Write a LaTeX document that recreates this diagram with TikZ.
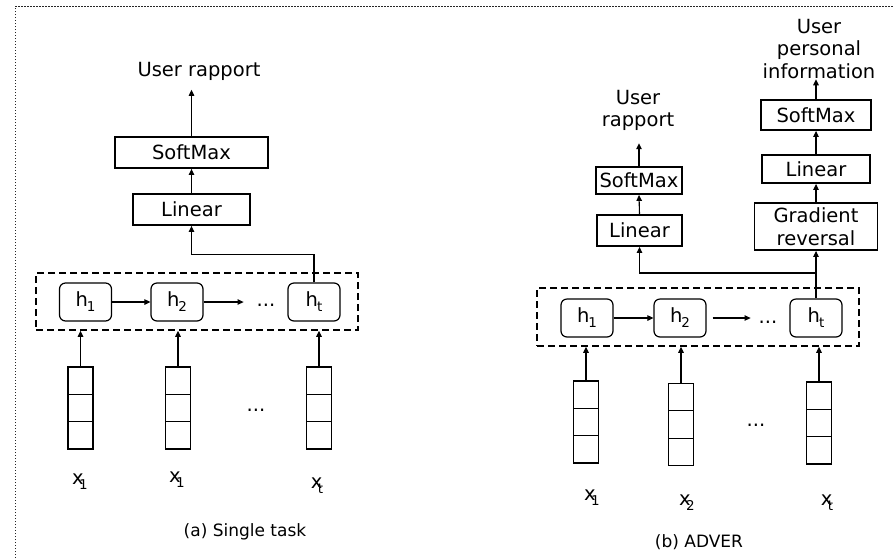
\documentclass[tikz,border=0pt]{standalone}
\usepackage{fontspec}
\setmainfont{DejaVu Sans}
\usetikzlibrary{arrows.meta,calc}
\newcommand{\mysb}[1]{\raisebox{-0.25em}{\fontsize{13.5}{13.5}\selectfont #1}}
\begin{document}
\begin{tikzpicture}[x=1pt,y=-1pt,
  font=\fontsize{19.5}{22.8}\selectfont,
  box/.style={draw, line width=1.8pt, inner sep=0pt, align=center},
  hbox/.style={draw, line width=1.2pt, rounded corners=6pt, minimum width=52pt, minimum height=38pt, inner sep=0pt},
  rnn/.style={draw, line width=1.5pt, dash pattern=on 7pt off 4pt, inner sep=0pt},
  arr/.style={line width=1.1pt, -{Triangle[length=6pt,width=5.5pt]}},
  lbl/.style={inner sep=0pt, align=center},
  captxt/.style={inner sep=0pt, font=\fontsize{17}{20}\selectfont},
  vec/.style={draw, line width=1.3pt, minimum width=25pt, minimum height=82pt, inner sep=0pt,
    path picture={
      \draw[line width=1.3pt] ($(path picture bounding box.north west)!1/3!(path picture bounding box.south west)$) -- ($(path picture bounding box.north east)!1/3!(path picture bounding box.south east)$);
      \draw[line width=1.3pt] ($(path picture bounding box.north west)!2/3!(path picture bounding box.south west)$) -- ($(path picture bounding box.north east)!2/3!(path picture bounding box.south east)$);
    }},
  frame/.style={line width=0.8pt, black!85, dash pattern=on 1.5pt off 1.5pt}
]
\useasboundingbox (0,0) rectangle (896,558);
\draw[frame] (15,558) -- (15,6) -- (893,6);

% ---------- (a) Single task ----------
\node[lbl] (outA) at (199,71.5) {User rapport};
\node[box, minimum width=153pt, minimum height=31pt] (smA) at (191.5,152.5) {SoftMax};
\node[box, minimum width=117pt, minimum height=31pt] (linA) at (191.5,209.5) {Linear};
\node[rnn, minimum width=322pt, minimum height=57pt] (rnnA) at (197,301.5) {};
\node[hbox] (hA1) at (85.5,302) {h\kern-1pt\mysb{1}};
\node[hbox] (hA2) at (177,302) {h\kern-1pt\mysb{2}};
\node[hbox] (hAt) at (314,302) {h\kern-1pt\mysb{t}};
\node[lbl] (dA) at (266,305) {...};
\node[vec] (vA1) at (80.5,408) {};
\node[vec] (vA2) at (178,408) {};
\node[vec] (vAt) at (319,408) {};
\node[lbl] (dvA) at (256,410) {...};
\node[lbl] (xA1) at (80,482) {x\kern-4.5pt\mysb{1}};
\node[lbl] (xA2) at (177,480) {x\kern-4.5pt\mysb{1}};
\node[lbl] (xAt) at (317,486) {x\kern-4.5pt\mysb{t}};
\node[captxt] (capA) at (245,532) {(a) Single task};

\draw[arr, shorten >=9pt] (smA.north) -- (smA.north |- outA.south);
\draw[arr] (linA.north) -- (smA.south);
\draw[arr] (hAt.north) -- ++(0,-28) -| (linA.south);
\draw[arr] (hA1.east) -- (hA2.west);
\draw[arr] (hA2.east) -- ++(40,0);
\draw[arr] (vA1.north) -- (vA1.north |- rnnA.south);
\draw[arr] (vA2.north) -- (vA2.north |- rnnA.south);
\draw[arr] (vAt.north) -- (vAt.north |- rnnA.south);

% ---------- (b) ADVER ----------
\node[lbl] (outB) at (638,110.5) {User\\rapport};
\node[box, minimum width=86pt, minimum height=27pt] (smB) at (639,180.5) {SoftMax};
\node[box, minimum width=85pt, minimum height=31pt] (linB) at (639.5,230.5) {Linear};
\node[lbl] (outC) at (819,49) {User\\personal\\information};
\node[box, minimum width=110pt, minimum height=30pt] (smC) at (816,115) {SoftMax};
\node[box, minimum width=108pt, minimum height=28pt] (linC) at (816,169) {Linear};
\node[box, minimum width=123pt, minimum height=47pt] (gr) at (816,226.5) {Gradient\\reversal};
\node[rnn, minimum width=322pt, minimum height=58pt] (rnnB) at (698,317) {};
\node[hbox] (hB1) at (587,318) {h\kern-1pt\mysb{1}};
\node[hbox] (hB2) at (680,318) {h\kern-1pt\mysb{2}};
\node[hbox] (hBt) at (816,318) {h\kern-1pt\mysb{t}};
\node[lbl] (dB) at (768,322) {...};
\node[vec] (vB1) at (586,422) {};
\node[vec] (vB2) at (681,424.5) {};
\node[vec] (vBt) at (819,423) {};
\node[lbl] (dvB) at (756,425) {...};
\node[lbl] (xB1) at (592,498) {x\kern-4.5pt\mysb{1}};
\node[lbl] (xB2) at (687,503) {x\kern-4.5pt\mysb{2}};
\node[lbl] (xBt) at (827,503) {x\kern-4.5pt\mysb{t}};
\node[captxt] (capB) at (699,542) {(b) ADVER};
\coordinate (jB) at (816,273);

\draw[arr, shorten >=12pt] (smB.north) -- (smB.north |- outB.south);
\draw[arr] (linB.north) -- (smB.south);
\draw[arr] (smC.north) -- (smC.north |- outC.south);
\draw[arr] (linC.north) -- (smC.south);
\draw[arr] (gr.north) -- (linC.south);
\draw[arr] (hBt.north) -- (gr.south);
\draw[arr] (jB) -| (linB.south);
\draw[arr] (hB1.east) -- (hB2.west);
\draw[arr] ([xshift=6pt]hB2.east) -- ++(38,0);
\draw[arr] (vB1.north) -- (vB1.north |- rnnB.south);
\draw[arr] (vB2.north) -- (vB2.north |- rnnB.south);
\draw[arr] (vBt.north) -- (vBt.north |- rnnB.south);
\end{tikzpicture}
\end{document}
